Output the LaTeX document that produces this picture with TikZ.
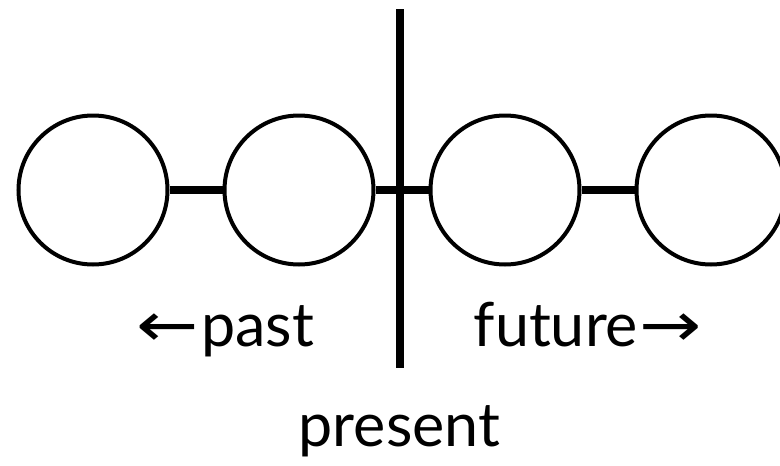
\documentclass[tikz,border=0pt]{standalone}
\usepackage{fontspec}
\setmainfont{Lato}
\newfontfamily\arrowfont{DejaVu Sans}
\usetikzlibrary{positioning}
\newcommand{\timearrow}[1]{{\arrowfont\fontsize{62}{62}\selectfont\scalebox{1.2}[1]{#1}}}

\begin{document}
\begin{tikzpicture}[
  x=1pt, y=-1pt,
  font=\fontsize{61}{66}\selectfont,
  moment/.style={draw, circle, line width=4pt, minimum size=149pt, inner sep=0pt},
  link/.style={line width=8pt},
  divider/.style={line width=8pt},
  word/.style={anchor=base, inner sep=0pt},
  node distance=53pt]
\useasboundingbox (0,0) rectangle (780,466);
\node[moment] (m1) at (93,190) {};
\node[moment, right=of m1] (m2) {};
\node[moment, right=of m2] (m3) {};
\node[moment, right=of m3] (m4) {};
\draw[link] (m1) -- (m2);
\draw[link] (m2) -- (m3);
\draw[link] (m3) -- (m4);
\coordinate (now top) at (400,9);
\coordinate (now bottom) at (400,368);
\draw[divider] (now top) -- (now bottom);
\node[word] (past) at (225.5,346) {\timearrow{←}\hspace{2pt}past};
\node[word] (future) at (587.5,346) {future\hspace{1pt}\timearrow{→}};
\node[word] (present) at (399.5,446) {present};
\end{tikzpicture}
\end{document}
